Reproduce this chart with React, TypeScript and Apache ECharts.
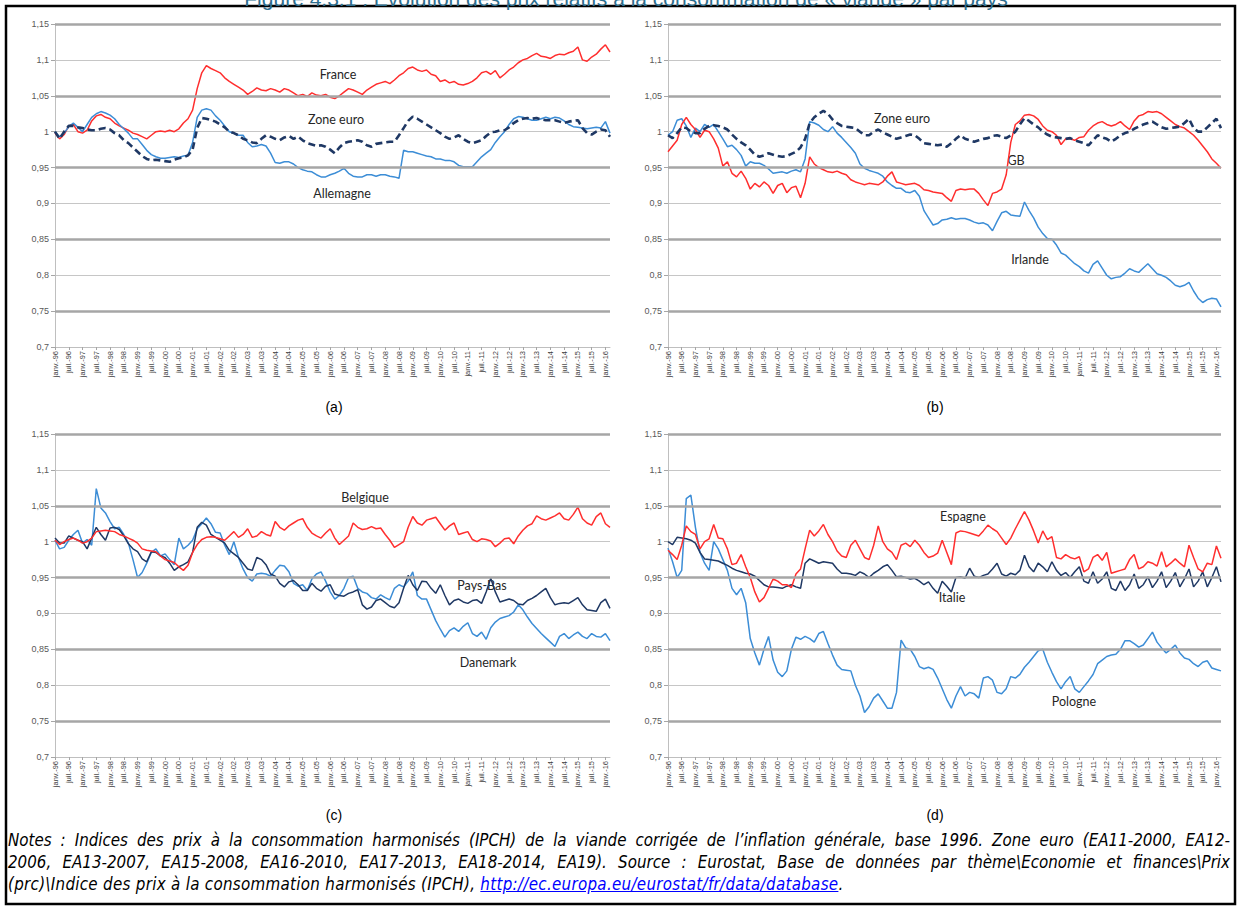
import React, { useEffect, useRef } from 'react';
import * as echarts from 'echarts';

// ---------- categories (bimonthly, Jan 1996 -> Mar 2016) ----------
const years = ['96','97','98','99','00','01','02','03','04','05','06','07','08','09','10','11','12','13','14','15','16'];
const months = ['janv.', 'mars', 'mai', 'juil.', 'sept.', 'nov.'];
const categories: string[] = [];
years.forEach((y, i) => months.forEach((m, j) => {
  if (i < years.length - 1 || j < 2) categories.push(`${m}-${y}`);
}));

const thickGrid = [1.15, 1.05, 0.95, 0.85, 0.75];

// ---------- panel (a) ----------
const franceA = [
  0.998, 0.99, 0.996, 1.008, 1.01, 1.0,
  0.998, 1.002, 1.015, 1.022, 1.024, 1.02,
  1.018, 1.012, 1.008, 1.005, 1.002, 0.998,
  0.996, 0.993, 0.99, 0.995, 1.0, 1.001,
  1.0, 1.002, 1.0, 1.004, 1.012, 1.018,
  1.03, 1.06, 1.082, 1.092, 1.088, 1.085,
  1.082, 1.075, 1.07, 1.066, 1.062, 1.058,
  1.052, 1.056, 1.061, 1.058, 1.057, 1.06,
  1.058, 1.055, 1.06, 1.058, 1.054, 1.05,
  1.052, 1.049, 1.054, 1.051, 1.05, 1.052,
  1.048, 1.046, 1.05, 1.055, 1.06, 1.058,
  1.055, 1.052, 1.058, 1.062, 1.066, 1.068,
  1.07, 1.067, 1.072, 1.078, 1.082, 1.088,
  1.09, 1.086, 1.084, 1.086, 1.08, 1.078,
  1.07, 1.072, 1.068, 1.07, 1.066, 1.065,
  1.067, 1.07, 1.075, 1.082, 1.084, 1.08,
  1.085, 1.075, 1.08, 1.086, 1.09, 1.096,
  1.1, 1.102, 1.106, 1.109, 1.105, 1.104,
  1.102, 1.106, 1.108, 1.107, 1.11, 1.112,
  1.118, 1.1, 1.098, 1.104, 1.108, 1.115,
  1.121, 1.111,
];
const allemagneA = [
  1.0, 0.993, 0.998, 1.007, 1.012, 1.006,
  1.0, 1.01, 1.02, 1.025, 1.028, 1.026,
  1.023, 1.018, 1.01, 1.004, 0.998, 0.99,
  0.99, 0.982, 0.974, 0.968, 0.965, 0.963,
  0.963, 0.964, 0.965, 0.964, 0.966, 0.967,
  0.985, 1.02, 1.03, 1.032, 1.03, 1.022,
  1.016, 1.008, 1.0, 0.998, 0.995, 0.995,
  0.985, 0.979, 0.98, 0.982, 0.98, 0.97,
  0.957, 0.956, 0.958, 0.958, 0.955, 0.95,
  0.947, 0.945, 0.944, 0.94, 0.937, 0.937,
  0.94, 0.942, 0.945, 0.949, 0.942, 0.938,
  0.937, 0.937, 0.94, 0.94, 0.938, 0.94,
  0.94, 0.938, 0.937, 0.935, 0.974, 0.972,
  0.972, 0.97, 0.968, 0.966, 0.965, 0.962,
  0.962, 0.96, 0.96, 0.958, 0.953, 0.951,
  0.951, 0.951, 0.958, 0.965, 0.97, 0.975,
  0.985, 0.993, 1.0, 1.01, 1.018, 1.021,
  1.02, 1.018, 1.016, 1.016, 1.018, 1.02,
  1.018, 1.02, 1.019, 1.015, 1.01, 1.007,
  1.006, 1.005, 1.004, 1.005, 1.006, 1.005,
  1.014, 0.998,
];
const zoneEuroA = [
  1.0, 0.99, 1.0, 1.008, 1.008, 1.006,
  1.005, 1.003, 1.002, 1.002, 1.004, 1.005,
  1.003, 0.998, 0.995, 0.988, 0.984, 0.978,
  0.972, 0.966, 0.962, 0.96, 0.961, 0.96,
  0.959, 0.958, 0.961, 0.963, 0.964, 0.967,
  0.975, 1.005, 1.019, 1.018, 1.016, 1.014,
  1.01, 1.006, 1.0, 0.998, 0.995, 0.99,
  0.988, 0.985, 0.984, 0.99, 0.995, 0.993,
  0.99, 0.988, 0.992, 0.994, 0.99, 0.993,
  0.988, 0.984, 0.982, 0.98, 0.981, 0.979,
  0.975, 0.97, 0.978, 0.984, 0.986, 0.987,
  0.988, 0.986, 0.981, 0.979, 0.983, 0.984,
  0.985, 0.986, 0.986, 0.995, 1.005, 1.015,
  1.021, 1.018, 1.014, 1.01, 1.006, 1.002,
  0.998, 0.993, 0.99, 0.992, 0.995, 0.99,
  0.986, 0.984, 0.986, 0.988, 0.994, 0.999,
  1.0, 1.002, 1.002, 1.006, 1.012, 1.016,
  1.018, 1.019, 1.018, 1.019, 1.017, 1.016,
  1.016, 1.016, 1.014, 1.012, 1.014, 1.015,
  1.016, 1.005, 0.998, 0.996, 1.0, 1.003,
  1.002, 0.993,
];

// ---------- panel (b) ----------
const zoneEuroB = [
  0.995, 0.991, 0.998, 1.006, 1.005, 1.0,
  0.998, 0.998, 1.004, 1.008, 1.009, 1.008,
  1.006, 1.003, 0.996, 0.99, 0.985, 0.981,
  0.975, 0.968, 0.965, 0.967, 0.97, 0.968,
  0.966, 0.965, 0.966, 0.969, 0.972, 0.978,
  0.99, 1.012, 1.02, 1.025, 1.029, 1.025,
  1.017, 1.012, 1.008, 1.007, 1.006, 1.005,
  1.0, 0.995, 0.995, 1.0, 1.003, 0.999,
  0.996, 0.993, 0.99, 0.992, 0.994, 0.996,
  0.995, 0.99, 0.984, 0.983, 0.982, 0.981,
  0.982, 0.979, 0.984, 0.99, 0.995, 0.99,
  0.988, 0.986, 0.988, 0.99, 0.991, 0.994,
  0.995, 0.993, 0.991, 0.995, 1.0, 1.01,
  1.019, 1.015, 1.01, 1.006, 1.0, 0.996,
  0.993, 0.992, 0.991, 0.99, 0.991, 0.988,
  0.986, 0.984, 0.981, 0.988, 0.995, 0.992,
  0.99, 0.986, 0.99, 0.995, 0.998, 1.0,
  1.004, 1.007, 1.01, 1.012, 1.014, 1.01,
  1.006, 1.004, 1.005, 1.006, 1.007, 1.012,
  1.018, 1.005, 1.0, 1.0, 1.006, 1.012,
  1.018, 1.005,
];
const gbB = [
  0.972, 0.98, 0.988, 1.01, 1.02, 1.01,
  1.003, 0.992, 1.002, 1.0, 0.99, 0.977,
  0.952, 0.958, 0.942, 0.937, 0.945, 0.935,
  0.92, 0.928, 0.923, 0.93, 0.925, 0.914,
  0.925, 0.928, 0.915, 0.922, 0.924, 0.908,
  0.928, 0.965, 0.955, 0.95, 0.947, 0.944,
  0.943, 0.945, 0.942, 0.94, 0.933, 0.93,
  0.928, 0.926, 0.928, 0.927, 0.926, 0.93,
  0.938, 0.944, 0.93, 0.928, 0.926, 0.927,
  0.928, 0.925, 0.919, 0.918, 0.916, 0.915,
  0.914, 0.908, 0.903, 0.918, 0.92, 0.919,
  0.92, 0.92, 0.914, 0.905, 0.897, 0.914,
  0.916, 0.92, 0.94, 0.985, 1.01, 1.015,
  1.023, 1.024, 1.022, 1.017, 1.008, 1.002,
  1.0, 0.995, 0.982, 0.99, 0.99, 0.988,
  0.992, 0.993, 1.002, 1.008, 1.012, 1.014,
  1.01, 1.008, 1.01, 1.014, 1.008, 1.003,
  1.015, 1.022, 1.024, 1.028, 1.027, 1.028,
  1.025, 1.02, 1.015, 1.01, 1.007, 1.005,
  1.0, 0.995, 0.988, 0.98, 0.972, 0.962,
  0.956, 0.949,
];
const irlandeB = [
  0.995, 1.0, 1.016, 1.018, 1.008, 0.992,
  1.005, 1.0, 1.01, 1.006, 1.01, 1.0,
  0.99, 0.979, 0.981, 0.975, 0.967, 0.952,
  0.958, 0.956, 0.956, 0.953, 0.948, 0.942,
  0.943, 0.944, 0.942, 0.945, 0.947, 0.944,
  0.962, 1.014, 1.012, 1.009, 1.003, 1.0,
  1.007, 0.998, 0.992, 0.985, 0.978, 0.97,
  0.955, 0.949, 0.946, 0.944, 0.942, 0.938,
  0.93, 0.925, 0.921, 0.921, 0.916, 0.915,
  0.918, 0.91, 0.89, 0.88, 0.87, 0.872,
  0.877, 0.878, 0.88, 0.878, 0.879, 0.879,
  0.877, 0.874, 0.872, 0.873, 0.87, 0.862,
  0.875, 0.887, 0.889, 0.884, 0.883, 0.882,
  0.902, 0.89, 0.88, 0.867, 0.858, 0.851,
  0.85, 0.842, 0.831, 0.828, 0.822, 0.816,
  0.812, 0.806, 0.803, 0.815, 0.82, 0.81,
  0.8, 0.795, 0.797, 0.798, 0.803, 0.809,
  0.806, 0.804, 0.81, 0.816, 0.809, 0.802,
  0.8, 0.797, 0.792, 0.786, 0.784, 0.786,
  0.79, 0.778, 0.768, 0.762, 0.766, 0.768,
  0.767, 0.756,
];

// ---------- panel (c) ----------
const belgiqueC = [
  1.002, 0.996, 1.0, 1.003, 1.005, 1.002,
  0.998, 1.0, 1.005, 1.014, 1.015, 1.016,
  1.015, 1.014, 1.01, 1.008, 1.005, 1.002,
  0.998, 0.99, 0.988, 0.987, 0.986, 0.98,
  0.975, 0.973, 0.971, 0.965, 0.96, 0.967,
  0.985, 0.996, 1.003, 1.006, 1.007, 1.006,
  1.004, 1.002, 1.008, 1.014, 1.006, 1.01,
  1.018, 1.006, 1.008, 1.014, 1.01, 1.008,
  1.028, 1.02, 1.016, 1.022, 1.026, 1.03,
  1.032, 1.02, 1.012, 1.008, 1.005, 1.012,
  1.018, 1.005, 0.996, 1.002, 1.008, 1.026,
  1.02, 1.017, 1.018, 1.021, 1.018, 1.019,
  1.01, 1.002, 0.992, 0.996, 1.0, 1.02,
  1.035, 1.026, 1.023, 1.03, 1.032, 1.034,
  1.025, 1.016, 1.022, 1.026, 1.01, 1.012,
  1.014, 1.003, 1.0, 1.004, 1.003, 1.001,
  0.993, 0.998, 1.004, 1.005, 0.997, 1.008,
  1.016, 1.022, 1.025, 1.036, 1.032, 1.03,
  1.033, 1.036, 1.04, 1.032, 1.03, 1.038,
  1.048, 1.032, 1.026, 1.023, 1.035, 1.04,
  1.025, 1.02,
];
const paysBasC = [
  1.005, 0.998, 0.998, 1.008, 1.005, 1.002,
  1.0, 0.99, 1.005, 1.02, 1.01, 1.002,
  1.019, 1.02, 1.017, 1.008, 0.997, 0.99,
  0.986, 0.976, 0.972, 0.986, 0.985, 0.98,
  0.978, 0.97, 0.96, 0.965, 0.968, 0.972,
  0.985, 1.02, 1.027, 1.023, 1.01, 1.006,
  1.002, 0.998, 0.988, 0.983, 0.978, 0.97,
  0.962, 0.96, 0.978, 0.975, 0.968, 0.955,
  0.952, 0.942, 0.937, 0.944, 0.946, 0.94,
  0.932, 0.932, 0.942, 0.935, 0.931, 0.938,
  0.94, 0.927, 0.925, 0.924, 0.928, 0.93,
  0.933, 0.912, 0.906, 0.909, 0.918, 0.92,
  0.915, 0.91, 0.908, 0.915, 0.935, 0.953,
  0.94, 0.932, 0.945, 0.944, 0.935, 0.928,
  0.94, 0.925, 0.912, 0.918, 0.92, 0.916,
  0.914, 0.918, 0.919, 0.914, 0.93, 0.949,
  0.93, 0.916, 0.918, 0.92, 0.918, 0.913,
  0.912, 0.918, 0.921, 0.925, 0.93, 0.935,
  0.922, 0.912, 0.914, 0.915, 0.914, 0.918,
  0.922, 0.912, 0.905, 0.904, 0.903, 0.915,
  0.92, 0.907,
];
const danemarkC = [
  1.002, 0.99, 0.992, 1.002, 1.01, 1.016,
  0.998, 1.003, 0.995, 1.074, 1.047, 1.04,
  1.028, 1.018, 1.02, 1.01, 0.998, 0.975,
  0.95, 0.957, 0.97, 0.985, 0.99, 0.98,
  0.983, 0.975, 0.968, 1.005, 0.99, 0.995,
  1.002, 1.018, 1.025, 1.033, 1.025, 1.013,
  1.012, 0.995, 0.982, 1.0, 0.978, 0.962,
  0.95, 0.945, 0.955, 0.956, 0.955, 0.952,
  0.96, 0.967, 0.966, 0.958, 0.942, 0.938,
  0.94, 0.932, 0.948, 0.955, 0.958, 0.945,
  0.93, 0.92, 0.925, 0.935, 0.95, 0.952,
  0.935, 0.93, 0.928, 0.922, 0.92, 0.926,
  0.922, 0.919, 0.935, 0.94, 0.937, 0.945,
  0.958, 0.925, 0.92, 0.92, 0.905, 0.89,
  0.878, 0.867, 0.876, 0.88, 0.875, 0.882,
  0.887, 0.872, 0.868, 0.874, 0.864, 0.88,
  0.888, 0.893, 0.895, 0.897, 0.902, 0.912,
  0.905, 0.895, 0.886, 0.879, 0.872, 0.866,
  0.86, 0.854, 0.868, 0.872, 0.865, 0.87,
  0.874, 0.868, 0.865, 0.872, 0.868, 0.867,
  0.872, 0.862,
];

// ---------- panel (d) ----------
const espagneD = [
  0.988, 0.982, 0.975, 0.995, 1.022, 1.014,
  1.01, 0.99, 1.0, 1.004, 1.024, 1.005,
  1.004, 0.99, 0.968, 0.97, 0.982, 0.965,
  0.95, 0.93, 0.916, 0.922, 0.935, 0.948,
  0.945, 0.94, 0.94, 0.936, 0.955, 0.962,
  0.99, 1.016, 1.008, 1.015, 1.024, 1.01,
  1.0, 0.987, 0.98, 0.978, 0.995, 1.002,
  0.99, 0.978, 0.975, 0.995, 1.022, 1.0,
  0.99, 0.985, 0.975, 0.995, 0.998, 0.993,
  1.002, 0.995, 0.985, 0.978, 0.98, 0.984,
  1.002, 0.985, 0.968, 1.012, 1.015, 1.014,
  1.012, 1.01, 1.008, 1.015, 1.023, 1.018,
  1.014, 1.005, 0.996, 1.005, 1.018, 1.03,
  1.042, 1.03, 1.015, 0.998, 1.015, 1.003,
  1.007, 0.978, 0.976, 0.982, 0.978, 0.976,
  0.979, 0.958, 0.962, 0.978, 0.982, 0.974,
  0.985, 0.956, 0.958, 0.96, 0.962, 0.975,
  0.982, 0.962, 0.965, 0.972, 0.97, 0.966,
  0.986, 0.965, 0.97, 0.976, 0.97, 0.965,
  0.995, 0.978, 0.962, 0.958, 0.97, 0.968,
  0.994, 0.977,
];
const italieD = [
  1.0, 0.996, 1.006, 1.005, 1.004, 1.002,
  0.998, 0.985, 0.976, 0.975, 0.974, 0.973,
  0.97, 0.967, 0.963, 0.96, 0.958, 0.956,
  0.955, 0.952, 0.946, 0.94, 0.937, 0.937,
  0.936, 0.935, 0.938, 0.94, 0.937, 0.935,
  0.97, 0.976, 0.973, 0.97, 0.972, 0.971,
  0.97, 0.962, 0.956, 0.956, 0.955, 0.953,
  0.958, 0.955, 0.95, 0.956, 0.96, 0.965,
  0.968, 0.96, 0.951, 0.952, 0.95, 0.948,
  0.949, 0.945, 0.94, 0.944, 0.935, 0.928,
  0.945, 0.938, 0.93, 0.95, 0.951, 0.949,
  0.963, 0.952, 0.95, 0.953, 0.955, 0.962,
  0.97, 0.955, 0.952, 0.956, 0.954, 0.96,
  0.981, 0.965, 0.958, 0.97, 0.965, 0.958,
  0.972, 0.96, 0.953, 0.957, 0.95, 0.958,
  0.965, 0.945, 0.942, 0.958, 0.942, 0.948,
  0.958, 0.935, 0.932, 0.945, 0.932, 0.94,
  0.955, 0.935, 0.94, 0.951, 0.936, 0.945,
  0.958, 0.936, 0.945, 0.957, 0.937, 0.948,
  0.962, 0.937, 0.945, 0.958, 0.937, 0.95,
  0.965, 0.944,
];
const pologneD = [
  0.991, 0.972, 0.95, 0.96, 1.06, 1.065,
  1.02, 0.985, 0.97, 0.96, 1.0, 0.99,
  0.975, 0.96, 0.935, 0.926, 0.935, 0.915,
  0.865, 0.845, 0.828, 0.85, 0.868, 0.835,
  0.818, 0.812, 0.82, 0.85, 0.867, 0.864,
  0.868, 0.865, 0.86, 0.872, 0.875, 0.858,
  0.842, 0.828, 0.822, 0.821, 0.82, 0.8,
  0.785, 0.762, 0.77, 0.782, 0.788, 0.778,
  0.768, 0.768, 0.79, 0.863, 0.852, 0.85,
  0.84, 0.826, 0.823, 0.825, 0.822, 0.81,
  0.795, 0.78, 0.768, 0.785, 0.798, 0.785,
  0.79, 0.788, 0.782, 0.81, 0.812, 0.807,
  0.79, 0.788, 0.795, 0.812, 0.81, 0.815,
  0.825, 0.832, 0.84, 0.848, 0.85, 0.832,
  0.818, 0.805, 0.795, 0.805, 0.812, 0.795,
  0.79, 0.798, 0.806, 0.815, 0.83, 0.835,
  0.84, 0.842, 0.843, 0.85, 0.862, 0.862,
  0.858, 0.853, 0.856, 0.865, 0.874, 0.86,
  0.852, 0.845, 0.85, 0.856, 0.845, 0.838,
  0.836, 0.83, 0.826, 0.832, 0.834, 0.824,
  0.822, 0.82,
];

const RED = '#FF2E2E';
const BLUE = '#3C8DD6';
const NAVY = '#1F3864';

const fmt = (v: number) => String(Number(v.toFixed(2))).replace('.', ',');

const grids = [
  { left: 55, top: 24, width: 555, height: 323 },
  { left: 668, top: 24, width: 553, height: 323 },
  { left: 55, top: 434, width: 555, height: 323 },
  { left: 668, top: 434, width: 553, height: 323 },
];

function xAxisFor(i: number) {
  return {
    type: 'category', gridIndex: i, data: categories, boundaryGap: false,
    axisLine: { lineStyle: { color: '#BFBFBF', width: 1 } },
    axisTick: { show: true, interval: 2, length: 3, lineStyle: { color: '#A6A6A6' } },
    axisLabel: {
      interval: 2, rotate: 90, fontSize: 7.5, color: '#404040', margin: 4,
      fontFamily: 'Liberation Sans, Arial, sans-serif',
    },
    splitLine: { show: false },
  };
}
function yAxisFor(i: number) {
  return {
    type: 'value', gridIndex: i, min: 0.7, max: 1.15, interval: 0.05,
    axisLine: { show: true, lineStyle: { color: '#BFBFBF', width: 1 } },
    axisTick: { show: true, length: 4, lineStyle: { color: '#A6A6A6' } },
    axisLabel: { fontSize: 9, color: '#595959', margin: 6, formatter: fmt, fontFamily: 'Liberation Sans, Arial, sans-serif' },
    splitLine: { show: true, lineStyle: { color: '#C6C6C6', width: 1 } },
  };
}
function gridSeries(i: number) {
  return {
    type: 'line', xAxisIndex: i, yAxisIndex: i, data: [], silent: true, z: 1,
    markLine: {
      silent: true, symbol: ['none', 'none'], label: { show: false },
      lineStyle: { color: '#A6A6A6', width: 2.5, type: 'solid' },
      data: thickGrid.map((v) => ({ yAxis: v })),
    },
  };
}
function line(i: number, name: string, data: number[], color: string, dashed = false) {
  return {
    type: 'line', name, xAxisIndex: i, yAxisIndex: i, data, showSymbol: false, symbol: 'none', z: 3,
    lineStyle: dashed ? { color, width: 2.6, type: [7, 4] } : { color, width: 1.5 },
  };
}

const labelFont = 'Lato, "Noto Sans", sans-serif';
function lbl(text: string, x: number, y: number) {
  return {
    type: 'text', x, y, silent: true,
    style: { text, fontSize: 12.5, fontFamily: labelFont, fill: '#262626', textAlign: 'center', textVerticalAlign: 'middle' },
  };
}
function cap(text: string, x: number, y: number) {
  return {
    type: 'text', x, y, silent: true,
    style: { text, fontSize: 14, fontFamily: 'Liberation Sans, Arial, sans-serif', fill: '#000', textAlign: 'center', textVerticalAlign: 'middle' },
  };
}

export default function App() {
  const ref = useRef<HTMLDivElement>(null);
  useEffect(() => {
    if (!ref.current) return;
    const chart = echarts.init(ref.current, null, { renderer: 'svg' });
    chart.setOption({
      animation: false,
      backgroundColor: '#FFFFFF',
      grid: grids,
      xAxis: [0, 1, 2, 3].map(xAxisFor),
      yAxis: [0, 1, 2, 3].map(yAxisFor),
      series: [
        gridSeries(0), gridSeries(1), gridSeries(2), gridSeries(3),
        line(0, 'France', franceA, RED),
        line(0, 'Allemagne', allemagneA, BLUE),
        line(0, 'Zone euro', zoneEuroA, NAVY, true),
        line(1, 'Irlande', irlandeB, BLUE),
        line(1, 'GB', gbB, RED),
        line(1, 'Zone euro', zoneEuroB, NAVY, true),
        line(2, 'Danemark', danemarkC, BLUE),
        line(2, 'Pays-Bas', paysBasC, NAVY),
        line(2, 'Belgique', belgiqueC, RED),
        line(3, 'Pologne', pologneD, BLUE),
        line(3, 'Italie', italieD, NAVY),
        line(3, 'Espagne', espagneD, RED),
      ],
      graphic: [
        {
          type: 'rect', silent: true, shape: { x: 6, y: 6, width: 1229, height: 898 },
          style: { fill: 'none', stroke: '#000', lineWidth: 2.5 },
        },
        {
          type: 'text', x: 626, y: 9, silent: true,
          style: {
            text: 'Figure 4.3.1 : Évolution des prix relatifs à la consommation de « viande » par pays',
            fontSize: 21, fontFamily: 'Liberation Sans, Arial, sans-serif', fill: '#2E6E8E',
            textAlign: 'center', textVerticalAlign: 'bottom',
          },
        },
        lbl('France', 338, 74), lbl('Zone euro', 336, 119), lbl('Allemagne', 342, 193),
        lbl('Zone euro', 902, 118), lbl('GB', 1016, 160), lbl('Irlande', 1030, 259),
        lbl('Belgique', 365, 497), lbl('Pays-Bas', 482, 585), lbl('Danemark', 488, 662),
        lbl('Espagne', 963, 516), lbl('Italie', 952, 597), lbl('Pologne', 1074, 701),
        cap('(a)', 334, 407), cap('(b)', 935, 407), cap('(c)', 334, 815), cap('(d)', 935, 815),
      ],
    });
    return () => chart.dispose();
  }, []);

  const noteStyle: React.CSSProperties = {
    fontFamily: '"DejaVu Sans Condensed", "DejaVu Sans", sans-serif',
    fontStretch: 'condensed',
    fontStyle: 'italic', fontSize: 16.8, lineHeight: '22px', color: '#000',
    textAlign: 'justify', textAlignLast: 'justify', whiteSpace: 'normal',
  };
  return (
    <div style={{ position: 'absolute', left: 0, top: 0, width: 1237, height: 915, background: '#fff' }}>
      <div ref={ref} style={{ position: 'absolute', left: 0, top: 0, width: 1237, height: 915 }} />
      <div style={{ position: 'absolute', left: 8, top: 829, width: 1222 }}>
        <div style={noteStyle}>
          Notes : Indices des prix à la consommation harmonisés (IPCH) de la viande corrigée de l’inflation générale, base 1996. Zone euro (EA11-2000, EA12-
        </div>
        <div style={noteStyle}>
          2006, EA13-2007, EA15-2008, EA16-2010, EA17-2013, EA18-2014, EA19). Source : Eurostat, Base de données par thème\Economie et finances\Prix
        </div>
        <div style={{ ...noteStyle, textAlignLast: 'left', textAlign: 'left', whiteSpace: 'nowrap', letterSpacing: '0.3px' }}>
          (prc)\Indice des prix à la consommation harmonisés (IPCH), <span style={{ color: '#0000FF', textDecoration: 'underline' }}>http://ec.europa.eu/eurostat/fr/data/database</span>.
        </div>
      </div>
    </div>
  );
}
